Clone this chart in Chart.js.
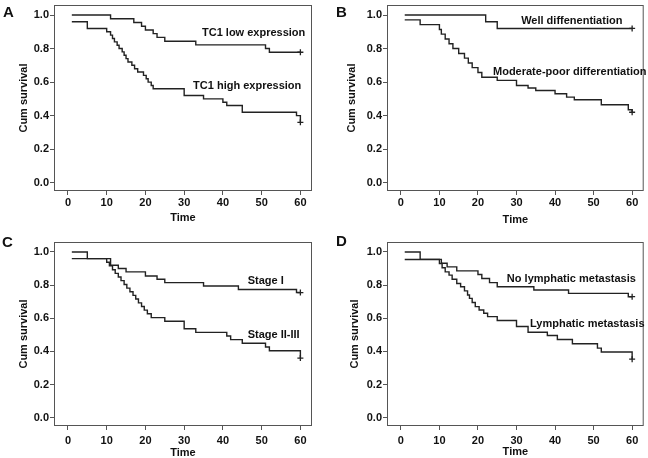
<!DOCTYPE html>
<html>
<head>
<meta charset="utf-8">
<script src="https://cdn.jsdelivr.net/npm/chart.js@4.4.1/dist/chart.umd.min.js"></script>
<style>
  body { margin: 0; background: #fff; }
  #wrap { position: relative; width: 648px; height: 458px; }
  .panel { position: absolute; width: 324px; height: 229px; }
  .tag { position: absolute; font: bold 15px "Liberation Sans", Arial, sans-serif; line-height: 15px; color: #111; }
</style>
</head>
<body>
<div id="wrap">
  <div class="panel" style="left:0;top:0"><canvas id="chartA" width="324" height="229"></canvas></div>
  <div class="panel" style="left:324px;top:0"><canvas id="chartB" width="324" height="229"></canvas></div>
  <div class="panel" style="left:0;top:229px"><canvas id="chartC" width="324" height="229"></canvas></div>
  <div class="panel" style="left:324px;top:229px"><canvas id="chartD" width="324" height="229"></canvas></div>
  <div class="tag" style="left:3px;top:4px">A</div>
  <div class="tag" style="left:336px;top:4px">B</div>
  <div class="tag" style="left:2px;top:234px">C</div>
  <div class="tag" style="left:336px;top:233px">D</div>
</div>
<script>
// tick labels
const timeTicks = [0, 10, 20, 30, 40, 50, 60];
const survTicks = [0, 0.2, 0.4, 0.6, 0.8, 1.0];

// A - TC1 expression
const aLowTime  = [1, 11, 17, 19, 20, 22, 23, 25, 33, 51, 52, 60];
const aLowSurv  = [1.0, 0.978, 0.956, 0.933, 0.911, 0.889, 0.867, 0.844, 0.822, 0.80, 0.778, 0.778];
const aHighTime = [1, 5, 10, 11, 11.5, 12, 12.7, 13.2, 14, 14.5, 15, 15.5, 16.5, 17.2, 18, 19.5, 20.2, 20.7, 21.5, 22, 30, 35, 40, 41, 45, 59, 60];
const aHighSurv = [0.96, 0.92, 0.90, 0.88, 0.86, 0.84, 0.82, 0.80, 0.78, 0.76, 0.74, 0.72, 0.70, 0.68, 0.66, 0.64, 0.62, 0.60, 0.58, 0.56, 0.52, 0.50, 0.48, 0.46, 0.42, 0.40, 0.36];

// B - differentiation
const bWellTime = [1, 22, 25, 60];
const bWellSurv = [1.0, 0.96, 0.92, 0.92];
const bModTime  = [1, 5, 10, 10.5, 11.5, 12.5, 13.5, 15, 16.5, 17.5, 18.5, 20, 21, 25, 30, 33, 35, 40, 43, 45, 52, 59, 60];
const bModSurv  = [0.971, 0.943, 0.914, 0.886, 0.857, 0.829, 0.80, 0.771, 0.743, 0.714, 0.686, 0.657, 0.629, 0.61, 0.58, 0.565, 0.55, 0.53, 0.51, 0.495, 0.465, 0.435, 0.42];

// C - stage
const cStage1Time = [1, 5, 11, 13, 15, 20, 23, 25, 35, 44, 59, 60];
const cStage1Surv = [1.0, 0.96, 0.92, 0.90, 0.88, 0.855, 0.835, 0.815, 0.795, 0.773, 0.755, 0.755];
const cStage2Time = [1, 10, 10.7, 11.5, 12.2, 13, 13.7, 14.5, 15.2, 16, 16.8, 17.5, 18.2, 19, 19.7, 20.5, 21.5, 25, 30, 33, 41, 42, 45, 51, 52, 60];
const cStage2Surv = [0.96, 0.938, 0.916, 0.893, 0.871, 0.849, 0.827, 0.804, 0.782, 0.76, 0.738, 0.716, 0.693, 0.671, 0.649, 0.627, 0.604, 0.582, 0.537, 0.515, 0.493, 0.471, 0.449, 0.427, 0.404, 0.36];

// D - lymphatic metastasis
const dNoTime  = [1, 5, 10.5, 12, 14.5, 20, 21, 23, 25, 34.5, 43.5, 59, 60];
const dNoSurv  = [1.0, 0.955, 0.932, 0.91, 0.886, 0.864, 0.84, 0.815, 0.79, 0.77, 0.75, 0.73, 0.73];
const dYesTime = [1, 10, 10.7, 11.5, 12.5, 13.3, 14.5, 15.5, 16.5, 17.3, 17.8, 18.5, 19.3, 20.3, 21.5, 22.5, 25, 30, 33, 38, 40.6, 44.5, 51, 52, 60];
const dYesSurv = [0.954, 0.93, 0.905, 0.88, 0.86, 0.835, 0.81, 0.79, 0.765, 0.74, 0.72, 0.695, 0.67, 0.65, 0.63, 0.61, 0.586, 0.55, 0.516, 0.496, 0.472, 0.446, 0.42, 0.396, 0.353];

const FONT = '"Liberation Sans", Arial, sans-serif';
const INK = '#222';
const AXIS = '#555';

// frame box + curve labels
const framePlugin = {
  id: 'frame',
  afterDraw(chart, args, opts) {
    const { ctx, chartArea: a, scales: { x, y } } = chart;
    ctx.save();
    ctx.strokeStyle = AXIS;
    ctx.lineWidth = 1;
    ctx.strokeRect(a.left + 0.5, a.top + 0.5, a.width - 1, a.height - 1);
    ctx.fillStyle = '#111';
    ctx.font = 'bold 11px ' + FONT;
    ctx.textBaseline = 'middle';
    ctx.textAlign = 'left';
    (opts.notes || []).forEach(n => ctx.fillText(n.text, x.getPixelForValue(n.x), y.getPixelForValue(n.y)));
    ctx.restore();
  }
};

function curve(times, surv) {
  const pts = times.map((t, i) => ({ x: t, y: surv[i] }));
  return {
    data: pts,
    stepped: true,
    borderColor: INK,
    borderWidth: 1.4,
    fill: false,
    pointStyle: 'cross',
    pointRadius: c => (c.dataIndex === pts.length - 1 ? 3 : 0),
    pointHoverRadius: 0,
    pointBorderColor: INK,
    pointBorderWidth: 1.3
  };
}

function panel(id, datasets, notes, g) {
  const W = 324, H = 229;
  const padLeft = g.yTitleX - 6.6;
  new Chart(document.getElementById(id), {
    type: 'line',
    data: { datasets },
    plugins: [framePlugin],
    options: {
      responsive: false,
      animation: false,
      events: [],
      layout: { padding: { left: padLeft, top: g.t, right: W - g.r, bottom: 0 } },
      plugins: {
        legend: { display: false },
        tooltip: { enabled: false },
        frame: { notes }
      },
      scales: {
        x: {
          type: 'linear',
          min: -3.6,
          max: 63,
          afterBuildTicks: s => { s.ticks = timeTicks.map(v => ({ value: v })); },
          afterFit: s => { s.height = H - g.b; s.paddingLeft = 0; s.paddingRight = 0; },
          grid: { drawOnChartArea: false, tickLength: 4, color: AXIS },
          border: { display: false },
          ticks: { color: '#111', padding: g.tickPad, maxRotation: 0, font: { family: FONT, size: 11, weight: 'bold' } },
          title: { display: true, text: 'Time', color: '#111', padding: { top: 0, bottom: g.xTitlePad }, font: { family: FONT, size: 11, weight: 'bold' } }
        },
        y: {
          min: -0.05,
          max: 1.06,
          afterBuildTicks: s => { s.ticks = survTicks.map(v => ({ value: v })); },
          afterFit: s => { s.width = g.l - padLeft; s.paddingTop = 0; s.paddingBottom = 0; },
          grid: { drawOnChartArea: false, tickLength: 4, color: AXIS },
          border: { display: false },
          ticks: { color: '#111', padding: 1, callback: v => v.toFixed(1), font: { family: FONT, size: 11, weight: 'bold' } },
          title: { display: true, text: 'Cum survival', color: '#111', padding: { top: 0, bottom: 0 }, font: { family: FONT, size: 11, weight: 'bold' } }
        }
      }
    }
  });
}

panel('chartA',
  [curve(aLowTime, aLowSurv), curve(aHighTime, aHighSurv)],
  [{ text: 'TC1 low expression', x: 34.6, y: 0.895 }, { text: 'TC1 high expression', x: 32.3, y: 0.578 }],
  { l: 54, r: 312, t: 5, b: 191, yTitleX: 24, tickPad: 1, xTitlePad: 4 });

panel('chartB',
  [curve(bWellTime, bWellSurv), curve(bModTime, bModSurv)],
  [{ text: 'Well diffenentiation', x: 31.2, y: 0.964 }, { text: 'Moderate-poor differentiation', x: 23.9, y: 0.66 }],
  { l: 63, r: 322, t: 5, b: 191, yTitleX: 28, tickPad: 1, xTitlePad: 2 });

panel('chartC',
  [curve(cStage1Time, cStage1Surv), curve(cStage2Time, cStage2Surv)],
  [{ text: 'Stage I', x: 46.4, y: 0.825 }, { text: 'Stage II-III', x: 46.4, y: 0.497 }],
  { l: 54, r: 312, t: 13, b: 197, yTitleX: 24, tickPad: 4, xTitlePad: -2 });

panel('chartD',
  [curve(dNoTime, dNoSurv), curve(dYesTime, dYesSurv)],
  [{ text: 'No lymphatic metastasis', x: 27.5, y: 0.835 }, { text: 'Lymphatic metastasis', x: 33.5, y: 0.566 }],
  { l: 63, r: 322, t: 13, b: 197, yTitleX: 31, tickPad: 4, xTitlePad: -1 });
</script>
</body>
</html>
